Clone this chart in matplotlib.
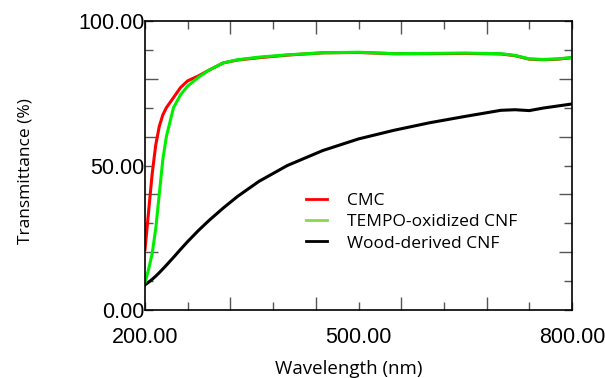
import matplotlib
matplotlib.use("Agg")
import matplotlib.pyplot as plt

# wavelength (nm)
wl = [200, 205, 210, 215, 220, 225, 230, 240, 250, 260, 275, 290, 310, 330,
      360, 400, 450, 500, 550, 600, 650, 700, 720, 740, 760, 780, 800]

cmc = [21.0, 34.0, 47.0, 57.0, 63.5, 67.5, 70.0, 73.5, 77.0, 79.3, 81.0, 83.0,
       85.5, 86.5, 87.3, 88.2, 89.0, 89.1, 88.7, 88.7, 88.8, 88.6, 88.0, 86.8,
       86.6, 86.8, 87.3]
tempo = [9.5, 14.0, 19.5, 28.0, 40.0, 52.0, 60.0, 70.0, 74.5, 77.5, 80.5, 83.0,
         85.5, 86.6, 87.5, 88.3, 89.0, 89.2, 88.7, 88.8, 88.9, 88.7, 88.1, 86.9,
         86.7, 86.9, 87.4]
wood = [8.7, 9.6, 10.6, 11.7, 12.9, 14.2, 15.5, 18.2, 21.0, 23.7, 27.5, 31.0,
        35.3, 39.3, 44.5, 50.0, 55.2, 59.2, 62.2, 64.8, 67.0, 69.1, 69.3, 69.0,
        69.9, 70.6, 71.3]

labels = ['CMC', 'TEMPO-oxidized CNF', 'Wood-derived CNF']
legend_colors = ['#ff0000', '#8ad84a', '#000000']

fig = plt.figure(figsize=(6.05, 3.78), dpi=100)
ax = fig.add_axes([0.2397, 0.1799, 0.7058, 0.7645])

ax.plot(wl, wood, color='#000000', lw=2.2)
ax.plot(wl, cmc, color='#ff0000', lw=2.2)
ax.plot(wl, tempo, color='#00ee00', lw=2.2)

ax.set_xlim(200, 800)
ax.set_ylim(0, 100)

# labelled (short) ticks and long unlabelled ticks
ax.set_xticks([200, 260, 380, 500, 620, 740, 800])
ax.set_xticklabels(['200.00', '', '', '500.00', '', '', '800.00'])
ax.set_xticks([320, 440, 560, 680], minor=True)
ax.set_yticks([0, 10, 30, 50, 70, 90, 100])
ax.set_yticklabels(['0.00', '', '', '50.00', '', '', '100.00'])
ax.set_yticks([20, 40, 60, 80], minor=True)

tick_font = 'Liberation Sans'
ax.tick_params(which='major', direction='in', length=6, width=1, color='#555555',
               top=True, right=True, labelsize=15.5)
ax.tick_params(which='minor', direction='in', length=9.5, width=1, color='#555555',
               top=True, right=True)
ax.tick_params(axis='x', which='major', pad=12)
ax.tick_params(axis='y', which='major', pad=0.5)
for t in ax.get_xticklabels() + ax.get_yticklabels():
    t.set_family(tick_font)

for s in ax.spines.values():
    s.set_linewidth(1.2)

ax.set_xlabel('Wavelength (nm)', family='Open Sans', fontsize=13.5)
ax.xaxis.set_label_coords(0.478, -0.172)
ax.set_ylabel('Transmittance (%)', family='Open Sans', fontsize=12.5)
ax.yaxis.set_label_coords(-0.262, 0.482)

handles = [plt.Line2D([], [], color=c, lw=2) for c in legend_colors]
ax.legend(handles, labels, loc='upper left', bbox_to_anchor=(0.34, 0.46),
          frameon=False, handlelength=1.2, handletextpad=1.2, labelspacing=0.3,
          prop={'family': 'Open Sans', 'size': 12.5})

fig.savefig('out.png', dpi=100)
